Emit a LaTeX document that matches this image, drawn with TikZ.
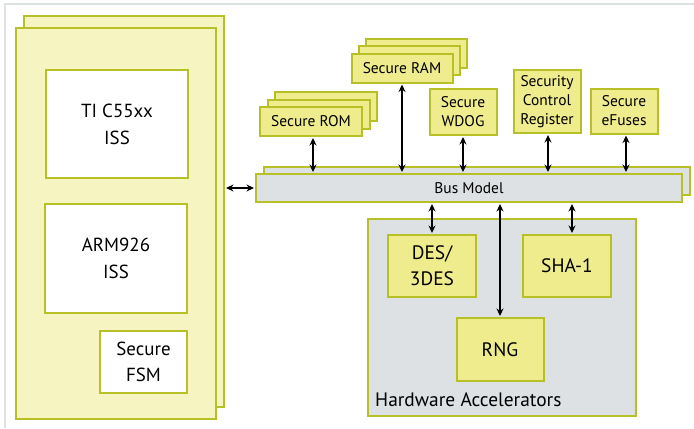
\documentclass[tikz,border=0pt]{standalone}
\usepackage{fontspec}
\setmainfont{PT Sans}
\usetikzlibrary{positioning, arrows.meta}

\definecolor{olive_line}{RGB}{184,192,40}
\definecolor{cpu_fill}{RGB}{246,244,192}
\definecolor{unit_fill}{RGB}{238,236,140}
\definecolor{bus_fill}{RGB}{222,225,227}
\definecolor{frame_gray}{RGB}{222,226,226}

\begin{document}
\begin{tikzpicture}[x=1bp, y=-1bp]
        \tikzset{
            >={Stealth[length=7.5bp, width=7bp]}, % arrow heads
            block/.style={draw=olive_line, line width=2bp, inner sep=0pt, align=center}, % every box
            cpu/.style={block, fill=cpu_fill, minimum width=200bp, minimum height=391bp},
            iss/.style={block, fill=white, font=\fontsize{19}{27}\selectfont},
            unit/.style={block, fill=unit_fill, font=\fontsize{15.5}{19}\selectfont},
            accel/.style={block, fill=unit_fill, minimum width=88bp, minimum height=62bp, font=\fontsize{19.5}{26}\selectfont},
            bus/.style={block, fill=bus_fill, minimum width=426bp, minimum height=28bp, font=\fontsize{15.5}{18}\selectfont},
            link/.style={<->, line width=1.7bp, shorten <=1bp, shorten >=1bp},
            }

        \useasboundingbox (0,0) rectangle (694,428);
        \draw[frame_gray, line width=2bp] (5,428) -- (5,4) -- (694,4);

        % processor nodes
        \node[cpu] (cpu_back) at (124,211.5) {};
        \node[cpu] (cpu_front) at (116,223.5) {};
        \node[iss, minimum width=142bp, minimum height=108bp] (c55_iss) at (117,124) {TI C55xx\\ISS};
        \node[iss, minimum width=142bp, minimum height=109bp] (arm_iss) at (116,258.5) {ARM926\\ISS};
        \node[iss, minimum width=87bp, minimum height=62bp, font=\fontsize{19}{26}\selectfont] (secure_fsm) at (143.5,362) {Secure\\FSM};

        % bus nodes
        \node[bus] (bus_back) at (477,180.5) {};
        \node[bus] (bus_model) at (469,188) {Bus Model};

        % memory and peripheral nodes
        \foreach \i in {2,1} {
            \node[unit, minimum width=102bp, minimum height=29bp] (rom_\i) at (311+7.5*\i,121.5-7.5*\i) {};
            \node[unit, minimum width=101bp, minimum height=29bp] (ram_\i) at (402+7*\i,68-7.5*\i) {};
        }
        \node[unit, minimum width=102bp, minimum height=29bp] (secure_rom) at (311,121.5) {Secure ROM};
        \node[unit, minimum width=101bp, minimum height=29bp] (secure_ram) at (402,68) {Secure RAM};
        \node[unit, minimum width=67bp, minimum height=46bp] (secure_wdog) at (463,112) {Secure\\WDOG};
        \node[unit, minimum width=67bp, minimum height=63bp] (security_reg) at (547,101.5) {Security\\Control\\Register};
        \node[unit, minimum width=67bp, minimum height=45bp] (secure_efuses) at (624,111) {Secure\\eFuses};

        % accelerator nodes
        \node[block, fill=bus_fill, minimum width=268bp, minimum height=197bp] (hw_accel) at (502,317.5) {};
        \node[anchor=base west, inner sep=0pt, font=\fontsize{19.5}{25}\selectfont] (hw_label) at ([xshift=8bp, yshift=11bp]hw_accel.south west) {Hardware Accelerators};
        \node[accel] (des_unit) at (432,266) {DES/\\3DES};
        \node[accel] (sha_unit) at (567,266) {SHA-1};
        \node[accel, minimum width=87bp, minimum height=63bp] (rng_unit) at (500,349.5) {RNG};
        \coordinate (sha_port) at ([xshift=5bp]sha_unit.north);

        % bus paths
        \draw[link] (cpu_back.east |- bus_model.west) -- (bus_model.west);
        \draw[link] ([xshift=2bp]secure_rom.south) -- ([xshift=2bp]secure_rom.south |- bus_model.north);
        \draw[link] (secure_ram.south) -- (secure_ram.south |- bus_model.north);
        \draw[link] (secure_wdog.south) -- (secure_wdog.south |- bus_model.north);
        \draw[link] ([xshift=1bp]security_reg.south) -- ([xshift=1bp]security_reg.south |- bus_model.north);
        \draw[link] ([xshift=2bp]secure_efuses.south) -- ([xshift=2bp]secure_efuses.south |- bus_model.north);

        % accelerator paths
        \draw[link] (bus_model.south -| des_unit.north) -- (des_unit.north);
        \draw[link] (bus_model.south -| rng_unit.north) -- (rng_unit.north);
        \draw[link] (bus_model.south -| sha_port) -- (sha_port);
    \end{tikzpicture}
\end{document}
